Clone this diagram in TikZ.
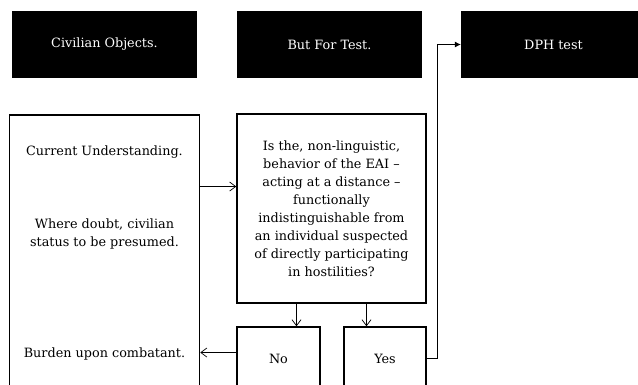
\documentclass[tikz,border=0pt]{standalone}
\usepackage{fontspec}
\setmainfont{DejaVu Serif}
\usetikzlibrary{arrows.meta}

\tikzset{
    blk/.style={fill=black, text=white, minimum width=185, minimum height=67, inner sep=0},
    box/.style={draw, line width=1.5pt, inner sep=0},
    txt/.style={align=center, inner sep=0},
    arr/.style={draw, line width=0.7pt, -{Straight Barb[length=6pt,width=9pt]}}
}

\begin{document}
\begin{tikzpicture}[x=1pt, y=-1pt, font=\fontsize{12.8}{18}\selectfont]
    \useasboundingbox (0,0) rectangle (638,384);
    \node [blk] at (104.5,44.5) (civ) {Civilian Objects.};
    \node [blk] at (329.5,44.5) (bft) {But For Test.};
    \node [blk] at (553.5,44.5) (dph) {DPH test};
    \node [box, minimum width=190, minimum height=290] at (104.5,260) (lft) {};
    \node [txt] at (104.5,152) (cur) {Current Understanding.};
    \node [txt] at (104.5,234) (wd) {Where doubt, civilian\\status to be presumed.};
    \node [txt] at (104.5,354) (bur) {Burden upon combatant.};
    \node [box, txt, minimum width=189, minimum height=189] at (331.5,208.5) (q) {Is the, non-linguistic,\\behavior of the EAI --\\acting at a distance --\\functionally\\indistinguishable from\\an individual suspected\\of directly participating\\in hostilities?};
    \node [box, minimum width=83, minimum height=63] at (278.5,358.5) (no) {No};
    \node [box, minimum width=82, minimum height=63] at (385,358.5) (yes) {Yes};
    \coordinate (qin) at ([yshift=22pt]q.west);
    \coordinate (noout) at ([yshift=6pt]no.west);
    \path [arr] (lft.east |- qin) -- (qin);
    \path [arr] ([xshift=-35pt]q.south) -- ([xshift=-35pt]q.south |- no.north);
    \path [arr] ([xshift=35pt]q.south) -- ([xshift=35pt]q.south |- yes.north);
    \path [arr] (noout) -- (lft.east |- noout);
    \path [draw, line width=0.7pt, -{Latex[length=6pt,width=6pt]}] (yes.east) -| ([xshift=-23pt]dph.west) -- (dph.west);
\end{tikzpicture}
\end{document}
